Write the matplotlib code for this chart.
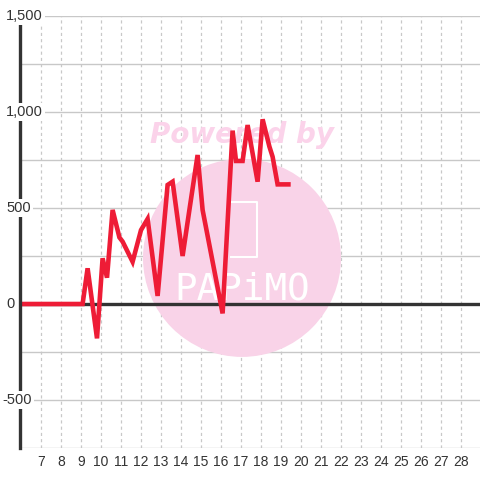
import matplotlib
matplotlib.use("Agg")
import matplotlib.pyplot as plt
from matplotlib.patches import Ellipse
from matplotlib import transforms

# ---- data ----
x_vals = [6, 9.08, 9.33, 9.8, 10.08, 10.3, 10.58, 10.92, 11.08, 11.58, 12.0, 12.33,
          12.83, 13.33, 13.58, 14.08, 14.42, 14.83, 15.08, 16.08, 16.58, 16.75,
          17.08, 17.33, 17.83, 18.08, 18.42, 18.58, 18.83, 19.37]
y_vals = [0, 0, 186, -179, 238, 137, 490, 347, 325, 220, 385, 443,
          42, 620, 637, 250, 490, 776, 490, -49, 903, 745,
          745, 932, 637, 962, 820, 767, 623, 623]
x_ticks = list(range(7, 29))
y_grid = [-750, -500, -250, 0, 250, 500, 750, 1000, 1250, 1500]
y_labels = {1500: "1,500", 1000: "1,000", 500: "500", 0: "0", -500: "-500"}

plt.rcParams['font.family'] = ['Liberation Sans', 'DejaVu Sans']

fig = plt.figure(figsize=(4.8, 4.8), dpi=100)
fig.patch.set_facecolor('white')
W, H = 480, 480
ax = fig.add_axes([20 / W, (H - 448) / H, 460 / W, 432 / H])
ax.set_facecolor('white')
ax.set_xlim(5.95, 28.95)
ax.set_ylim(-750, 1500)

# grid
for yv in y_grid:
    ax.axhline(yv, color='#c8c8c8', lw=1.0, zorder=1)
for xv in x_ticks:
    ax.axvline(xv, color='#c8c8c8', lw=0.9, ls=(0, (2.5, 2.5)), zorder=1)

# watermark
circ = Ellipse((17.05, 240), width=198 / 20, height=198 / 96 * 500,
               facecolor='#f9d3e8', edgecolor='none', zorder=1.5)
ax.add_patch(circ)
ax.text(17.05, 880, "Powered by", ha='center', va='center', fontsize=20,
        fontweight='bold', fontstyle='italic', color='#fbd3ea',
        family='DejaVu Sans', zorder=1.6)
ax.plot([16.5, 17.8, 17.8, 16.5], [530, 530, 245, 245], color='white', lw=1.5, zorder=1.6)
ax.text(17.05, 75, "PAPiMO", ha='center', va='center', fontsize=27,
        color='white', family='DejaVu Sans Mono', fontweight='light', zorder=1.6)

# zero line
ax.axhline(0, color='#333333', lw=2.4, zorder=2)

# data line
ax.plot(x_vals, y_vals, color='#ee1c36', lw=3.3, solid_joinstyle='miter',
        solid_capstyle='projecting', zorder=3)

# spines
for s in ['top', 'right', 'bottom']:
    ax.spines[s].set_visible(False)
ax.spines['left'].set_color('#333333')
ax.spines['left'].set_linewidth(2.4)
ax.spines['left'].set_zorder(4)

ax.set_xticks(x_ticks)
ax.set_xticklabels([str(v) for v in x_ticks])
ax.tick_params(axis='x', length=0, pad=5, labelsize=10, labelcolor='#333333')
ax.set_yticks([])

# y labels placed over the axis line
trans = transforms.blended_transform_factory(fig.transFigure, ax.transData)
for yv, lab in y_labels.items():
    xpx = 2 if yv < 0 else 6
    ax.text(xpx / W, yv, lab, transform=trans, ha='left', va='center',
            fontsize=10.5, color='#333333', zorder=6, clip_on=False,
            bbox=dict(boxstyle='square,pad=0.15', facecolor='white', edgecolor='none'))

fig.savefig('out.png', dpi=100)
